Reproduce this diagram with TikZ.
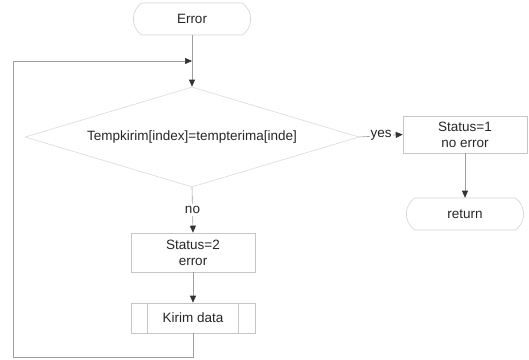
\documentclass[tikz,border=0pt]{standalone}
\usepackage{fontspec}
\setmainfont{Liberation Sans}
\usetikzlibrary{shapes.geometric,shapes.misc,arrows.meta}

\tikzset{
    box/.style={draw=gray!45, line width=0.6pt, minimum width=124pt, inner sep=2pt, align=center},
    term/.style={draw=gray!35, line width=0.6pt, rounded rectangle, rounded rectangle arc length=110, minimum width=124pt, minimum height=32pt},
    line/.style={draw=gray!75, line width=0.6pt},
    flow/.style={line, -{Triangle[length=7pt,width=6pt,black!80]}},
}

\begin{document}
\begin{tikzpicture}[x=1pt, y=-1pt, every node/.style={font=\fontsize{13.5}{16}\selectfont, text=black!85}]
    \useasboundingbox (0,0) rectangle (529,359);

    \node[term] (err) at (192,19) {Error};
    \node[diamond, aspect=3.34, draw=gray!30, line width=0.6pt, inner sep=0pt, minimum width=334pt, minimum height=100pt] (dec) at (192,137) {Tempkirim[index]=tempterima[inde]};
    \node[box, minimum height=37pt] (ok) at (465,134.5) {Status=1\\no error};
    \node[term] (ret) at (465,214) {return};
    \node[box, minimum height=39pt] (bad) at (193,252.5) {Status=2\\error};
    \node[box, minimum height=30pt] (kirim) at (193,318) {Kirim data};
    \draw[draw=gray!45, line width=0.6pt] ([xshift=17pt]kirim.north west) -- ([xshift=17pt]kirim.south west);
    \draw[draw=gray!45, line width=0.6pt] ([xshift=-17pt]kirim.north east) -- ([xshift=-17pt]kirim.south east);

    \coordinate (loopbl) at (13,357);
    \coordinate (loopin) at (192,61);

    \draw[flow] (err.south) -- (dec.north);
    \draw[flow] (dec.east) -- node[fill=white, inner sep=1pt] {yes} (ok.west);
    \draw[flow] (ok.south) -- (ret.north);
    \draw[flow] (dec.south) -- node[fill=white, inner sep=2pt] {no} (bad.north);
    \draw[flow] (bad.south) -- (kirim.north);
    \draw[flow] (kirim.south) |- (loopbl) |- (loopin);

\end{tikzpicture}
\end{document}
